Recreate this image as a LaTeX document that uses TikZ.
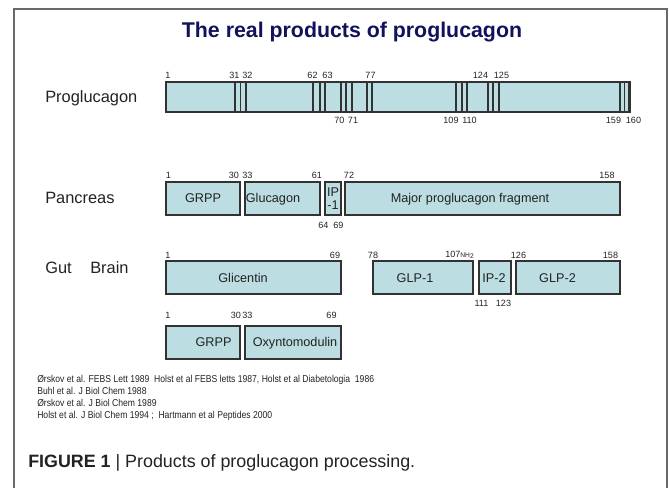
\documentclass[tikz,border=0pt]{standalone}
\usepackage{fontspec}
\setmainfont{Liberation Sans}
\newfontfamily\reffont[FakeStretch=0.86]{Liberation Sans}
\definecolor{segfill}{RGB}{188,222,226}
\definecolor{segline}{RGB}{50,50,50}
\definecolor{titleblue}{RGB}{18,18,92}
\definecolor{framegray}{RGB}{105,105,105}
\definecolor{textdark}{RGB}{34,34,34}

\begin{document}
\begin{tikzpicture}[x=0.75pt,y=-0.75pt,
    segbox/.style={draw=segline, fill=segfill, line width=1pt},
    sepline/.style={draw=segline, line width=1pt},
    segtext/.style={inner sep=0pt, text=textdark, font=\fontsize{9.5}{11}\selectfont, text height=1.5ex, text depth=.25ex},
    num/.style={inner sep=0pt, text=textdark, font=\fontsize{6.8}{8}\selectfont},
    rowlabel/.style={anchor=base west, inner sep=0pt, text=textdark, font=\fontsize{12.3}{14}\selectfont},
    reftext/.style={anchor=base west, inner sep=0pt, text=textdark, font=\reffont\fontsize{7.5}{9}\selectfont}]
    \useasboundingbox (0,0) rectangle (669,488);
    % frame
    \draw[framegray, line width=1.5pt] (14,488) -- (14,9) -- (667,9) -- (667,488);

    \node[inner sep=0pt, text=titleblue, font=\fontsize{16}{19}\bfseries] (title) at (352,32) {The real products of proglucagon};

    % proglucagon
    \node[rowlabel] (lprog) at (45,103) {Proglucagon};
    \draw[segbox] (166,82) rectangle (630,112);
    \foreach \x in {235,240.5,246,313,320,325,341,346,352,367,372,456,462,467,488,493,499,620,624.5,629}
        \draw[sepline] (\x,82) -- (\x,112);
    \foreach \x/\t in {168/1,234.5/31,247.5/32,312.5/62,327.5/63,370.5/77,480.5/124,501.5/125}
        \node[num] (pa\t) at (\x,75) {\t};
    \foreach \x/\t in {339.5/70,353/71,451/109,469.5/110,613.5/159,633.5/160}
        \node[num] (pb\t) at (\x,120) {\t};

    % pancreas
    \node[rowlabel] (lpan) at (45,204) {Pancreas};
    \draw[segbox] (166,182) rectangle (240,215);
    \draw[segbox] (245,182) rectangle (320,215);
    \draw[segbox] (325,182) rectangle (341,215);
    \draw[segbox] (345,182) rectangle (620,215);
    \node[segtext] (grppa) at (203,198.5) {GRPP};
    \node[segtext] (gluc) at (273,198.5) {Glucagon};
    \node[inner sep=0pt, text=textdark, align=center, font=\fontsize{9.5}{10}\selectfont] (ipone) at (333,198.5) {IP\\-1};
    \node[segtext] (mpgf) at (470,198.5) {Major proglucagon fragment};
    \foreach \x/\t in {168.5/1,234/30,247.5/33,317/61,349/72,607/158}
        \node[num] (qa\t) at (\x,175) {\t};
    \foreach \x/\t in {323.5/64,338.5/69}
        \node[num] (qb\t) at (\x,225) {\t};

    % gut and brain
    \node[rowlabel] (lgut) at (45,274) {Gut};
    \node[rowlabel] (lbrain) at (90,274) {Brain};
    \draw[segbox] (166,261) rectangle (341,294);
    \draw[segbox] (373,261) rectangle (473,294);
    \draw[segbox] (479,261) rectangle (511,294);
    \draw[segbox] (516,261) rectangle (620,294);
    \node[segtext] (glic) at (243,278) {Glicentin};
    \node[segtext] (glpone) at (415,278) {GLP-1};
    \node[segtext] (iptwo) at (494,278) {IP-2};
    \node[segtext] (glptwo) at (557.5,278) {GLP-2};
    \foreach \x/\t in {168/1,335/69,373/78,518.5/126,610.5/158}
        \node[num] (ra\t) at (\x,255) {\t};
    \node[num, anchor=east] (ranh) at (474,255) {107{\fontsize{5}{6}\selectfont NH\raisebox{-0.4ex}{2}}};
    \foreach \x/\t in {481.5/111,503.5/123}
        \node[num] (rb\t) at (\x,303) {\t};

    % second gut row
    \draw[segbox] (166,326) rectangle (240,359);
    \draw[segbox] (245,326) rectangle (341,359);
    \node[segtext] (grppb) at (213.5,342.5) {GRPP};
    \node[segtext] (oxm) at (295,342.5) {Oxyntomodulin};
    \foreach \x/\t in {168/1,236/30,247.5/33,331.5/69}
        \node[num] (sa\t) at (\x,315) {\t};

    % references
    \node[reftext] (refa) at (37,383) {Ørskov et al. FEBS Lett 1989~~Holst et al FEBS letts 1987, Holst et al Diabetologia~~1986};
    \node[reftext] (refb) at (37,395) {Buhl et al. J Biol Chem 1988};
    \node[reftext] (refc) at (37,407) {Ørskov et al. J Biol Chem 1989};
    \node[reftext] (refd) at (37,419) {Holst et al. J Biol Chem 1994~;~~Hartmann et al Peptides 2000};

    % caption
    \node[anchor=base west, inner sep=0pt, text=textdark, font=\fontsize{13.4}{16}\selectfont] (caption) at (28,468) {\textbf{FIGURE 1} | Products of proglucagon processing.};
\end{tikzpicture}
\end{document}
